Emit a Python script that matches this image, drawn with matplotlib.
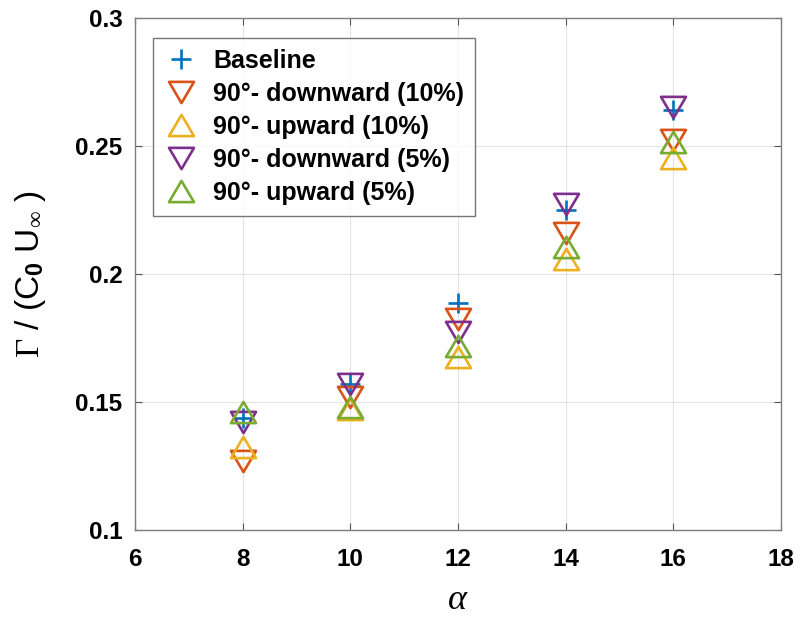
import matplotlib
matplotlib.use("Agg")
from matplotlib import pyplot as plt
from matplotlib.path import Path

plt.rcParams["font.family"] = ["Liberation Sans", "DejaVu Sans"]
plt.rcParams["font.weight"] = "bold"
plt.rcParams["mathtext.fontset"] = "custom"
plt.rcParams["mathtext.rm"] = "Liberation Serif:weight=normal"
plt.rcParams["mathtext.it"] = "Liberation Serif:style=italic:weight=normal"
plt.rcParams["mathtext.sf"] = "Liberation Sans:bold"

alpha = [8, 10, 12, 14, 16]
baseline = [0.1437, 0.157, 0.1887, 0.225, 0.264]
down_10 = [0.127, 0.1518, 0.1826, 0.2162, 0.2525]
up_10 = [0.1325, 0.1472, 0.1674, 0.2059, 0.2455]
down_5 = [0.142, 0.157, 0.1775, 0.2273, 0.2654]
up_5 = [0.146, 0.148, 0.1717, 0.2104, 0.2515]

labels = ["Baseline", "90°- downward (10%)", "90°- upward (10%)",
          "90°- downward (5%)", "90°- upward (5%)"]
colors = ["#0072BD", "#D95319", "#EDB120", "#7E2F8E", "#77AC30"]

# MATLAB-like triangles are a bit wider than tall
tri_up = Path([(-1, -0.85), (1, -0.85), (0, 0.85), (-1, -0.85)], closed=True)
tri_dn = Path([(-1, 0.85), (1, 0.85), (0, -0.85), (-1, 0.85)], closed=True)
markers = ["+", tri_dn, tri_up, tri_dn, tri_up]
sizes = [15, 18, 18, 18, 18]
series = [baseline, down_10, up_10, down_5, up_5]

fig = plt.figure(figsize=(8.09, 6.17), dpi=100)
ax = fig.add_axes([0.1669, 0.141, 0.7985, 0.8298])

for vals, lab, col, mk, ms in zip(series, labels, colors, markers, sizes):
    ax.plot(alpha, vals, linestyle="none", marker=mk, markersize=ms,
            markerfacecolor="none", markeredgecolor=col, markeredgewidth=1.9,
            label=lab)

ax.set_xlim(6, 18)
ax.set_ylim(0.1, 0.3)
ax.set_xticks([6, 8, 10, 12, 14, 16, 18])
ax.set_yticks([0.1, 0.15, 0.2, 0.25, 0.3])
ax.set_yticklabels(["0.1", "0.15", "0.2", "0.25", "0.3"])
ax.grid(True, color="#e3e3e3", linewidth=0.8)
ax.set_axisbelow(True)
ax.tick_params(direction="in", top=True, right=True, labelsize=17.5,
               color="#555555", length=5)
ax.tick_params(axis="x", pad=13)
ax.tick_params(axis="y", pad=9)
for sp in ax.spines.values():
    sp.set_color("#7f7f7f")
    sp.set_linewidth(1.0)

ax.set_xlabel(r"$\alpha$", fontsize=26, va="center")
ax.set_ylabel(r"$\Gamma$ / (C$_{\mathsf{0}}$ U$_{\infty}$ )", fontsize=24, va="center")
ax.xaxis.set_label_coords(0.5, -0.136)
ax.yaxis.set_label_coords(-0.162, 0.5)

leg = ax.legend(loc="upper left", bbox_to_anchor=(0.028, 0.961), borderaxespad=0,
                fontsize=18, frameon=True, fancybox=False, handletextpad=0.6,
                labelspacing=0.36, borderpad=0.45, handlelength=1.35)
leg.get_frame().set_edgecolor("#555555")
leg.get_frame().set_linewidth(1.0)

fig.savefig("out.png", dpi=100)
plt.close()
